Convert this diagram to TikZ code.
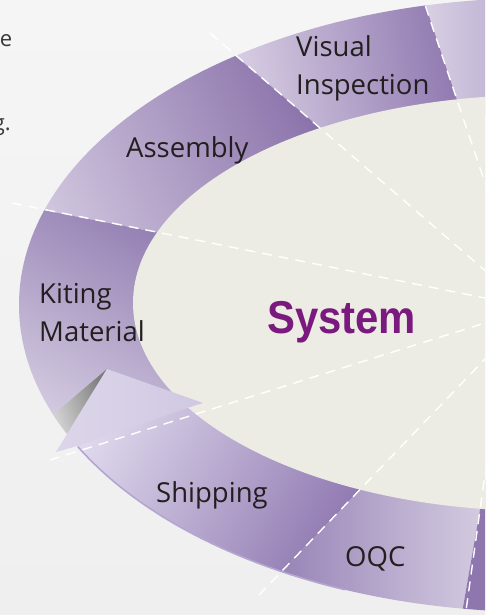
\documentclass[tikz,border=0pt]{standalone}
\usepackage{fontspec}
\setmainfont{Open Sans}
\newfontfamily\sysfont{Liberation Sans}
\usetikzlibrary{calc}
\definecolor{bgtop}{HTML}{F5F5F5}
\definecolor{bgbot}{HTML}{EFEFEF}
\definecolor{innerc}{HTML}{ECECE4}
\definecolor{sysc}{HTML}{7A1A7E}
\definecolor{txtc}{HTML}{231F20}
\definecolor{fragc}{HTML}{3A3A3A}
\definecolor{tra}{HTML}{D8D0E4}
\definecolor{trb}{HTML}{B8AACE}
\definecolor{via}{HTML}{D6CCE2}
\definecolor{vib}{HTML}{8E77AF}
\definecolor{asa}{HTML}{D0C6DE}
\definecolor{asb}{HTML}{8A72AA}
\definecolor{kma}{HTML}{D6CEE2}
\definecolor{kmb}{HTML}{8A74AC}
\definecolor{sha}{HTML}{DED8EC}
\definecolor{shb}{HTML}{8C74AE}
\definecolor{oqa}{HTML}{9682B6}
\definecolor{oqb}{HTML}{D6CEE2}
\definecolor{brc}{HTML}{8E76AE}
\definecolor{arra}{HTML}{DCD6EA}
\definecolor{arrb}{HTML}{D0C8E2}
\definecolor{rimc}{HTML}{B4A6D0}
\definecolor{graya}{HTML}{E2E2E2}
\definecolor{grayb}{HTML}{7C7C7C}
\tikzset{
  dline/.style={draw=white, line width=1.4pt, dash pattern=on 10pt off 7pt},
  lbl/.style={anchor=base west, inner sep=0pt, text=txtc, font=\fontsize{27.5}{38}\selectfont},
  frag/.style={anchor=base east, inner sep=0pt, text=fragc, font=\fontsize{22}{26}\selectfont},
}
\begin{document}
\begin{tikzpicture}[x=1pt,y=-1pt]
\useasboundingbox (0,0) rectangle (485,615);
\clip (0,0) rectangle (485,615);
\shade[top color=bgtop, bottom color=bgbot] (0,0) rectangle (485,615);

\coordinate (C) at (540,305);
\coordinate (Ci) at (540,303);
\coordinate (L1o) at (238,58);  \coordinate (L1i) at (320,128);
\coordinate (L2o) at (43,210);  \coordinate (L2i) at (160,233);
\coordinate (L3o) at (77,446);  \coordinate (L3i) at (187,408);
\coordinate (L4o) at (280,573); \coordinate (L4i) at (353,497);
\coordinate (L5o) at (427,10);  \coordinate (L5i) at (457,100);
\coordinate (L6o) at (462,613); \coordinate (L6i) at (480,510);
\coordinate (L1n) at ($(L1o)!1.4!(L1i)$);  \coordinate (L1f) at ($(L1i)!5!(L1o)$);
\coordinate (L2n) at ($(L2o)!1.4!(L2i)$);  \coordinate (L2f) at ($(L2i)!5!(L2o)$);
\coordinate (L3n) at ($(L3o)!1.65!(L3i)$); \coordinate (L3f) at ($(L3i)!5!(L3o)$);
\coordinate (L4n) at ($(L4o)!1.4!(L4i)$);  \coordinate (L4f) at ($(L4i)!5!(L4o)$);
\coordinate (L5n) at ($(L5o)!1.3!(L5i)$);  \coordinate (L5f) at ($(L5i)!5!(L5o)$);
\coordinate (L6n) at ($(L6o)!1.5!(L6i)$);  \coordinate (L6f) at ($(L6i)!5!(L6o)$);

% top-right segment
\begin{scope}
\clip (C) ellipse [x radius=521pt, y radius=307pt];
\clip (L5n) -- (L5f) -- (900,-400) -- (900,305) -- (540,305) -- cycle;
\shade[left color=tra, right color=trb] (425,-5) rectangle (520,115);
\end{scope}
% visual inspection
\begin{scope}
\clip (C) ellipse [x radius=521pt, y radius=307pt];
\clip (L1n) -- (L1f) -- (250,-500) -- (L5f) -- (L5n) -- cycle;
\shade[top color=via, bottom color=vib, shading angle=100] (236,-5) rectangle (465,135);
\end{scope}
% assembly
\begin{scope}
\clip (C) ellipse [x radius=521pt, y radius=307pt];
\clip (L2n) -- (L2f) -- (-400,-400) -- (L1f) -- (L1n) -- cycle;
\shade[top color=asa, bottom color=asb, shading angle=115] (15,50) rectangle (335,250);
\end{scope}
% kiting material
\begin{scope}
\clip (C) ellipse [x radius=521pt, y radius=307pt];
\clip (L3n) -- (L3f) -- (-500,300) -- (L2f) -- (L2n) -- cycle;
\shade[top color=kma, bottom color=kmb, shading angle=150] (15,200) rectangle (265,460);
\end{scope}
% shipping
\begin{scope}
\clip (C) ellipse [x radius=521pt, y radius=307pt];
\clip (L4n) -- (L4f) -- (-400,900) -- (L3f) -- (L3n) -- cycle;
\shade[top color=sha, bottom color=shb, shading angle=60] (55,395) rectangle (365,618);
\end{scope}
% OQC
\begin{scope}
\clip (C) ellipse [x radius=521pt, y radius=307pt];
\clip (L6n) -- (L6f) -- (200,1100) -- (L4f) -- (L4n) -- cycle;
\shade[left color=oqa, right color=oqb] (275,485) rectangle (490,620);
\end{scope}
% bottom-right
\begin{scope}
\clip (C) ellipse [x radius=521pt, y radius=307pt];
\clip (L6n) -- (L6f) -- (900,1000) -- (900,305) -- (540,305) -- cycle;
\fill[brc] (440,430) rectangle (600,620);
\end{scope}

% inner ellipse
\fill[innerc] (Ci) ellipse [x radius=407pt, y radius=208pt];

% shadow fold at kiting end
\begin{scope}
\clip (C) ellipse [x radius=521pt, y radius=307pt];
\shade[top color=graya, bottom color=grayb, shading angle=110] (107,369) -- (47,420) -- (56,452) -- cycle;
\end{scope}

% rim along shipping outer edge
\draw[rimc, line width=1.6pt] ($(C)+(207.5:521pt and 307pt)$) arc[start angle=207.5, end angle=248, x radius=521pt, y radius=307pt];

% arrow head
\shade[left color=arra, right color=arrb] (107,369) -- (56,452) -- (L3o) -- (L3i) -- (203,403) -- cycle;

% dashed radial lines
\coordinate (D1a) at (210,33);  \coordinate (D1b) at (320,128);
\coordinate (D2a) at (12,203);  \coordinate (D2b) at (485,298);
\coordinate (D3a) at (50,460);  \coordinate (D3b) at (485,323);
\coordinate (D4a) at (259,595); \coordinate (D4b) at (485,359);
\coordinate (D5a) at (420,-10); \coordinate (D5b) at (485,183);
\coordinate (D6a) at (464,625); \coordinate (D6b) at (480,510);
\draw[dline] (D1a) -- ($(D1a)!3!(D1b)$);
\draw[dline] (D2a) -- ($(D2a)!1.2!(D2b)$);
\draw[dline] (D3a) -- ($(D3a)!1.2!(D3b)$);
\draw[dline] (D4a) -- ($(D4a)!1.2!(D4b)$);
\draw[dline] (D5a) -- ($(D5a)!1.3!(D5b)$);
\draw[dline] (D6a) -- ($(D6a)!3!(D6b)$);

% labels
\node[lbl] (vi) at (296,57) {\vtop{\hbox{Visual}\hbox{Inspection}}};
\node[lbl] (as) at (126,157) {Assembly};
\node[lbl] (km) at (39,303) {\vtop{\hbox{Kiting}\hbox{Material}}};
\node[lbl] (sh) at (156,502) {Shipping};
\node[lbl] (oq) at (345,566) {OQC};
\node[anchor=base west, inner sep=0pt, xscale=0.91, text=sysc, font=\sysfont\bfseries\fontsize{46}{50}\selectfont] (sys) at (267,333) {System};
\node[frag] (f1) at (12.5,47) {re};
\node[frag] (f2) at (11,130) {g.};
\end{tikzpicture}
\end{document}
